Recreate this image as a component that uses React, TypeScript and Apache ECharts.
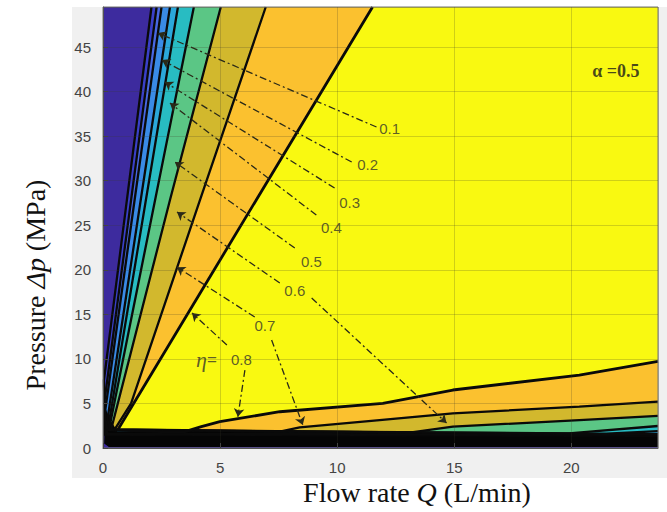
import React, { useEffect, useRef } from "react";
import * as echarts from "echarts";

const Q_MAX = 23.7;
const DP_MAX = 49.5;
const X_TICKS = [0, 5, 10, 15, 20];
const Y_TICKS = [0, 5, 10, 15, 20, 25, 30, 35, 40, 45];

// efficiency levels of the contour lines and the fill above each
const LEVELS = [0.05, 0.1, 0.2, 0.3, 0.4, 0.5, 0.6, 0.7, 0.8];
const BELOW_COLOR = "#3d2b9e";
const FILL_COLORS = ["#3a40c8", "#4868e2", "#3a8be6", "#2ba8da", "#28bcc2", "#5bc685", "#d2b82d", "#fbc12f", "#f9f911"];

// contour lines [Q, dp], from the top edge to the right edge
const contour005 = [[2.07, 49.5], [0.04, 7.6], [0.08, 1.45], [23.7, 1.4]];
const contour01 = [[2.29, 49.5], [0.07, 5.4], [0.1, 1.5], [23.7, 1.45]];
const contour02 = [[2.5, 49.5], [0.1, 4.3], [0.12, 1.55], [23.7, 1.5]];
const contour03 = [[2.86, 49.5], [0.15, 2.5], [0.18, 1.6], [23.7, 1.55]];
const contour04 = [[3.2, 49.5], [0.2, 2.0], [21.5, 1.6], [23.7, 1.9]];
const contour05 = [[3.88, 49.5], [0.25, 2.0], [19.9, 1.65], [23.7, 2.47]];
const contour06 = [[5.03, 49.5], [2.86, 27.83], [0.35, 2.1], [13.09, 1.72], [14.94, 2.39], [20.34, 3.14], [23.7, 3.6]];
const contour07 = [[6.95, 49.5], [4.14, 27.83], [1.2, 5.0], [0.5, 2.1], [7.55, 1.83], [8.4, 2.32], [11.81, 3.14], [14.94, 3.89], [20.34, 4.64], [23.7, 5.2]];
const contour08 = [[11.51, 49.5], [0.62, 2.0], [3.4, 1.75], [4.2, 2.4], [4.99, 2.95], [7.55, 4.07], [11.95, 5.02], [14.94, 6.51], [20.34, 8.19], [23.7, 9.72]];
const CONTOURS = [contour005, contour01, contour02, contour03, contour04, contour05, contour06, contour07, contour08];

// band where all low-level lines crowd together near dp = 0
const denseBand = [[0.05, 0.5], [0.25, 0.1], [23.7, 0.1], [23.7, 1.6], [0.62, 1.85], [0.3, 3.2], [0.1, 4.5]];

// annotations: label text, label position, arrows [from, to]
const ANNOT_TEXT = ["0.1", "0.2", "0.3", "0.4", "0.5", "0.6", "0.7", "0.8"];
const ANNOT_POS = [[12.24, 35.9], [11.3, 31.8], [10.53, 27.6], [9.75, 24.7], [8.9, 20.9], [8.19, 17.7], [6.91, 13.8], [5.91, 9.88]];
const ARROWS = [
  [[11.68, 36.03], [2.35, 46.58]],
  [[10.62, 32.1], [2.52, 43.55]],
  [[9.89, 29.18], [2.64, 41.08]],
  [[9.11, 26.15], [2.86, 38.72]],
  [[8.19, 22.45], [3.07, 32.1]],
  [[7.55, 18.52], [3.16, 26.49]],
  [[8.91, 16.84], [14.67, 2.81]],
  [[6.48, 14.7], [3.16, 20.3]],
  [[7.2, 12.12], [8.53, 2.58]],
  [[5.29, 11.56], [3.8, 15.15]],
  [[6.06, 8.75], [5.76, 3.51]],
];
const ETA_POS = [4.42, 9.88];
const ALPHA_POS = [21.9, 42.3];

export default function App() {
  const ref = useRef<HTMLDivElement>(null);
  useEffect(() => {
    const chart = echarts.init(ref.current!, null, { renderer: "svg" });
    const regions: { pts: number[][]; color: string }[] = [
      { pts: [[0, 0], [Q_MAX, 0], [Q_MAX, DP_MAX], [0, DP_MAX]], color: BELOW_COLOR },
    ];
    CONTOURS.forEach((c, i) => regions.push({ pts: [...c, [Q_MAX, DP_MAX]], color: FILL_COLORS[i] }));
    regions.push({ pts: denseBand, color: "#050505" });

    const serif = "'Liberation Serif', 'Times New Roman', serif";
    const sans = "'Liberation Sans', Arial, sans-serif";
    const labelColor = "#35352a";

    const series: any[] = [
      {
        type: "custom",
        z: 1,
        silent: true,
        data: regions.map((_, i) => [i, 0]),
        renderItem: (params: any, api: any) => {
          const r = regions[params.dataIndex];
          return {
            type: "polygon",
            shape: { points: r.pts.map((p) => api.coord(p)) },
            style: { fill: r.color, stroke: null },
          };
        },
      },
    ];
    CONTOURS.forEach((c, i) => {
      series.push({
        type: "line",
        name: "eta=" + LEVELS[i],
        data: c,
        showSymbol: false,
        symbol: "none",
        z: 3,
        lineStyle: { color: "#0a0a0a", width: i === 8 ? 2.8 : 2.3 },
        silent: true,
      });
    });
    series.push({
      type: "lines",
      coordinateSystem: "cartesian2d",
      z: 4,
      symbol: ["none", "arrow"],
      symbolSize: 8,
      lineStyle: { color: "#2a2a18", width: 1.3, type: [7, 3, 2, 3], opacity: 1 },
      data: ARROWS.map((a) => ({ coords: a })),
      silent: true,
    });
    series.push({
      type: "scatter",
      z: 5,
      symbolSize: 0,
      silent: true,
      data: ANNOT_POS.map((p, i) => ({ value: p, name: ANNOT_TEXT[i] })),
      label: {
        show: true,
        position: "inside",
        formatter: (p: any) => p.name,
        fontFamily: sans,
        fontSize: 15,
        color: labelColor,
      },
    });
    series.push({
      type: "scatter",
      z: 5,
      symbolSize: 0,
      silent: true,
      data: [
        { value: ETA_POS, name: "eta" },
        { value: ALPHA_POS, name: "alpha" },
      ],
      label: {
        show: true,
        position: "inside",
        formatter: (p: any) => (p.name === "eta" ? "{e|η}{q|=}" : "{a|α =0.5}"),
        rich: {
          e: { fontFamily: serif, fontStyle: "italic", fontSize: 22, color: labelColor },
          q: { fontFamily: sans, fontSize: 17, color: labelColor },
          a: { fontFamily: serif, fontWeight: "bold", fontSize: 18, color: "#1a1a1a" },
        },
      },
    });

    const titleRich = {
      a: { fontFamily: serif, fontSize: 28, fill: "#111", color: "#111" },
      i: { fontFamily: serif, fontSize: 28, fontStyle: "italic", fill: "#111", color: "#111" },
    };

    chart.setOption({
      animation: false,
      backgroundColor: "transparent",
      grid: {
        left: 103, top: 7, width: 555, height: 441,
        outerBoundsMode: "none", containLabel: false,
        show: true, z: 10, borderColor: "#777", borderWidth: 1, backgroundColor: "transparent",
      },
      graphic: [
        {
          type: "text",
          x: 417,
          y: 492,
          z: 20,
          style: { text: "{a|Flow rate }{i|Q}{a| (L/min)}", rich: titleRich, align: "center", verticalAlign: "middle" },
        },
        {
          type: "text",
          x: 35,
          y: 285,
          rotation: Math.PI / 2,
          z: 20,
          style: { text: "{a|Pressure }{i|Δp}{a| (MPa)}", rich: titleRich, align: "center", verticalAlign: "middle" },
        },
      ],
      xAxis: {
        type: "value",
        min: 0,
        max: Q_MAX,
        interval: 5,
        z: 10,
        axisLine: { show: true, lineStyle: { color: "#555", width: 1 } },
        axisTick: { show: true, inside: true, length: 5, lineStyle: { color: "#444" } },
        splitLine: { show: true, lineStyle: { color: "rgba(60,60,40,0.22)", width: 1 } },
        axisLabel: {
          showMaxLabel: false,
          fontFamily: sans,
          fontSize: 15,
          color: "#444",
          margin: 12,
          formatter: (v: number) => (X_TICKS.includes(v) ? String(v) : ""),
        },
      },
      yAxis: {
        type: "value",
        min: 0,
        max: DP_MAX,
        interval: 5,
        z: 10,
        axisLine: { show: true, lineStyle: { color: "#555", width: 1 } },
        axisTick: { show: true, inside: true, length: 5, lineStyle: { color: "#444" } },
        splitLine: { show: true, lineStyle: { color: "rgba(60,60,40,0.22)", width: 1 } },
        axisLabel: {
          showMaxLabel: false,
          fontFamily: sans,
          fontSize: 15,
          color: "#444",
          margin: 12,
          formatter: (v: number) => (Y_TICKS.includes(v) ? String(v) : ""),
        },
      },
      series,
    });
    return () => chart.dispose();
  }, []);

  return (
    <div style={{ position: "absolute", left: 0, top: 0, width: 667, height: 512, background: "#ffffff" }}>
      <div style={{ position: "absolute", left: 72, top: 7, width: 595, height: 471, background: "#f0f0f0" }} />
      <div ref={ref} style={{ position: "absolute", left: 0, top: 0, width: 667, height: 512 }} />
    </div>
  );
}
